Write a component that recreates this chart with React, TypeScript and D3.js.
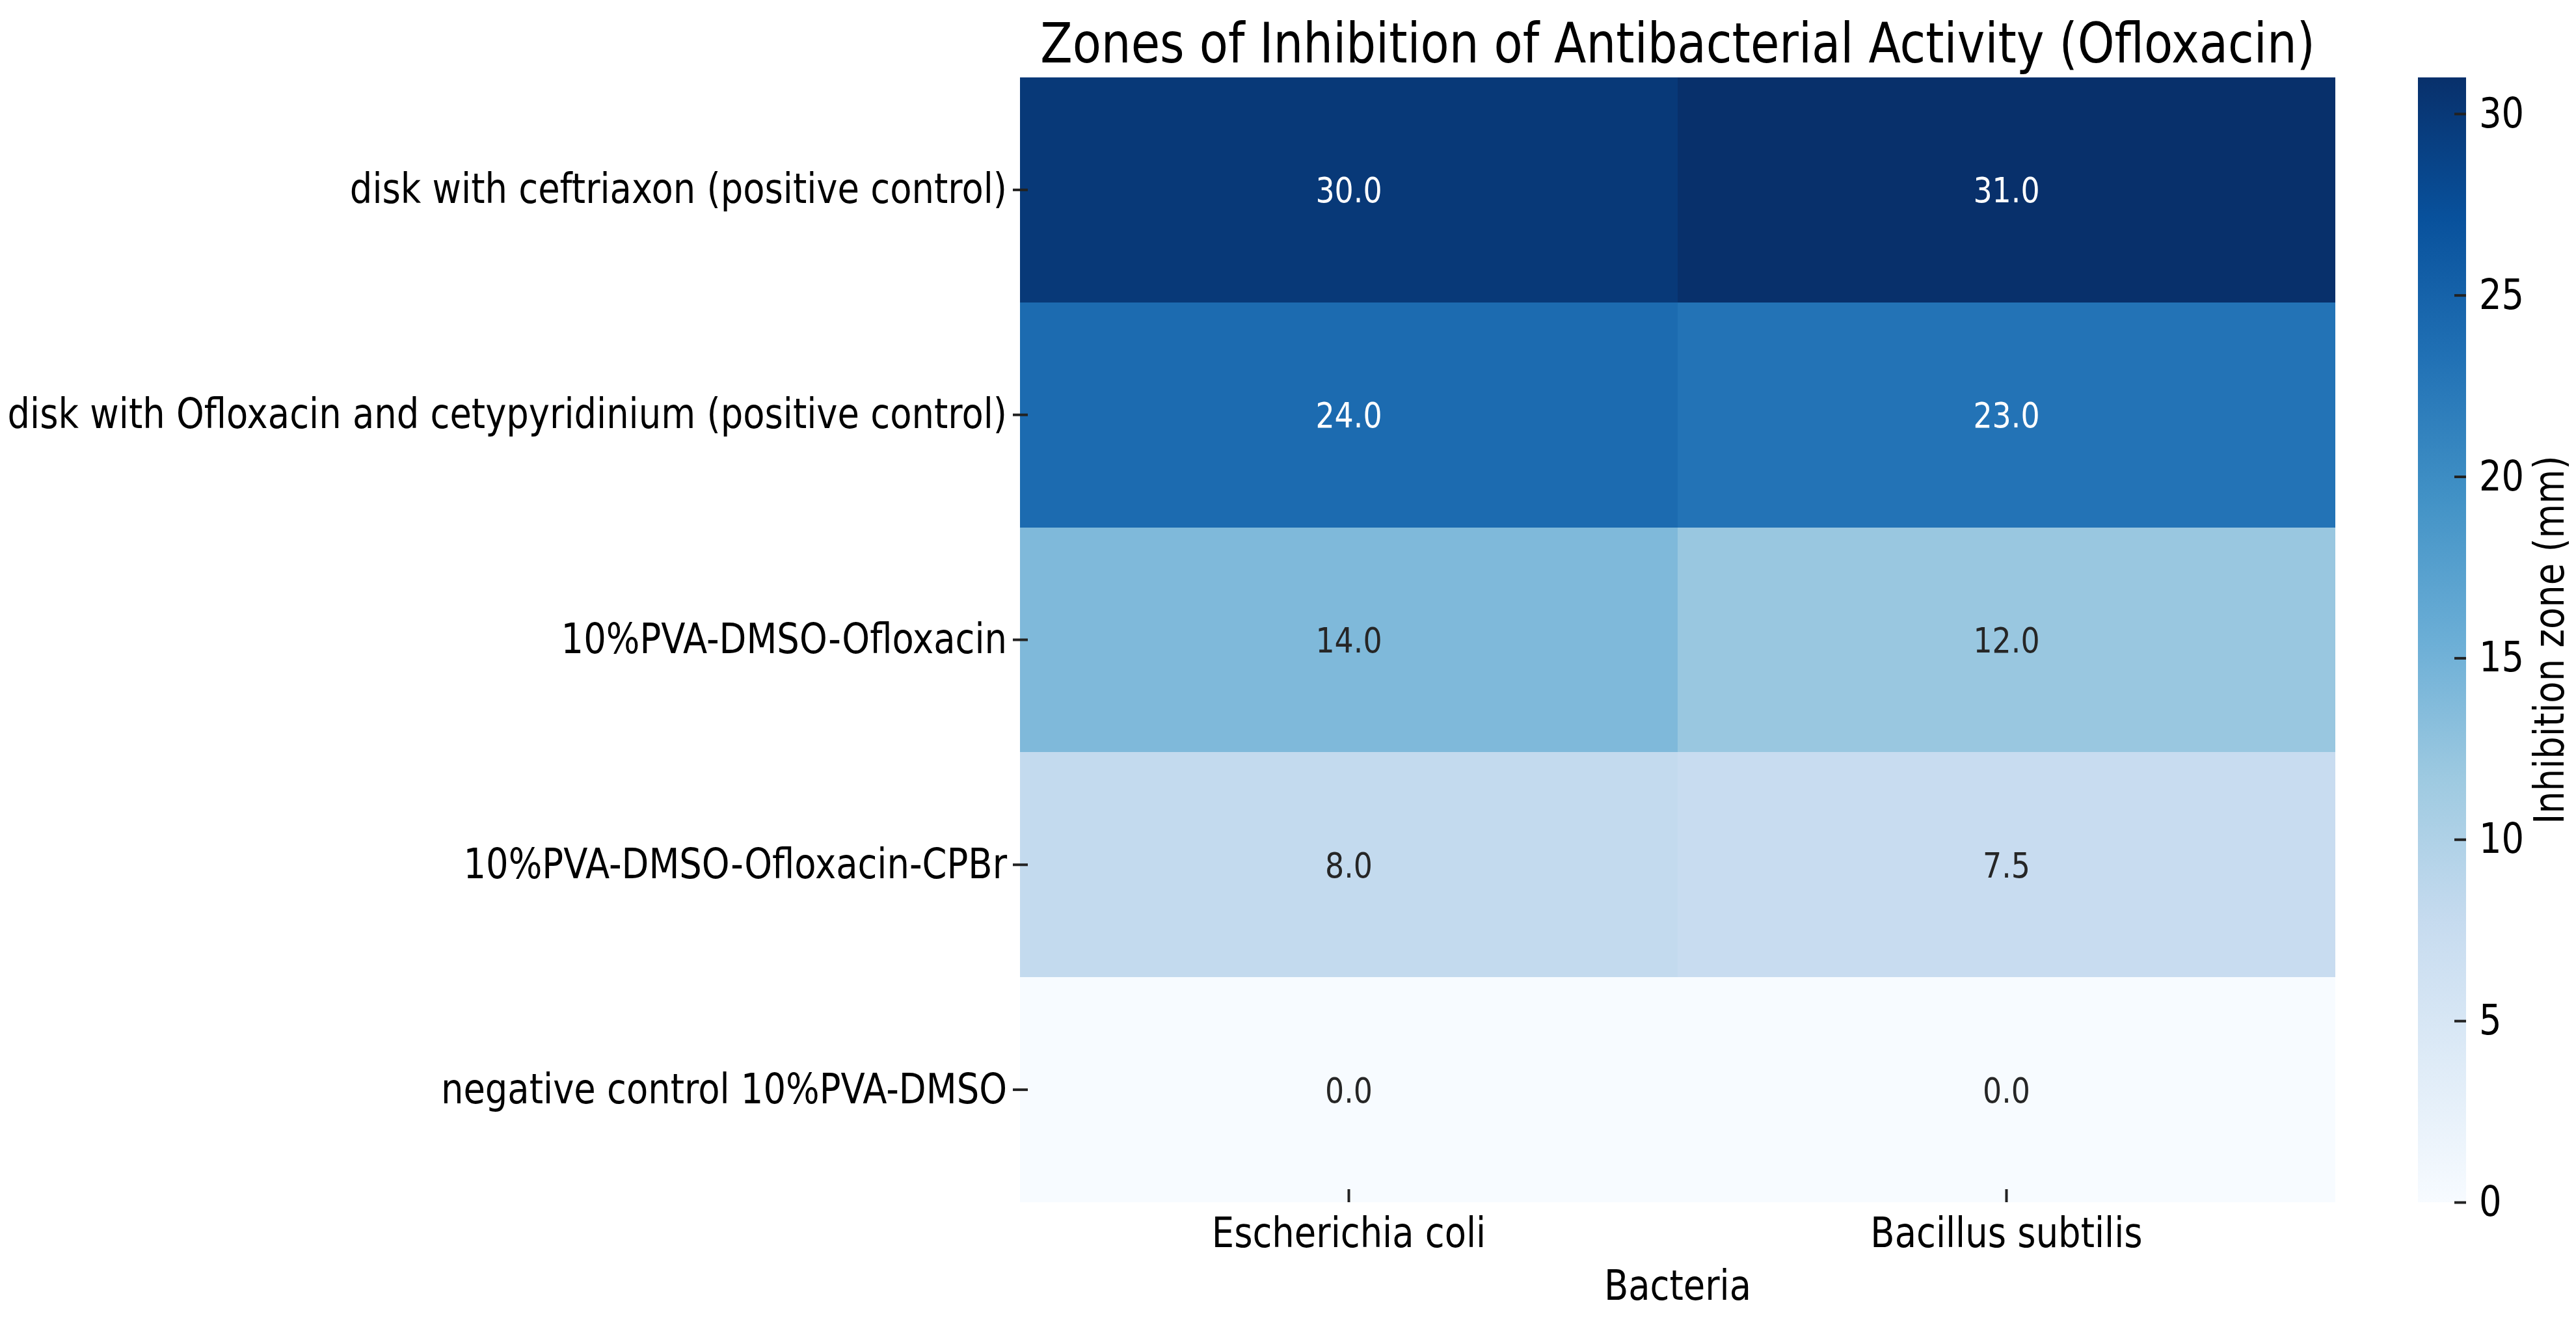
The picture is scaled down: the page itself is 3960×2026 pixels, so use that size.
import React, { useRef, useEffect } from 'react';
import * as d3 from 'd3';

// Data
const bacteria = ['Escherichia coli', 'Bacillus subtilis'];
const treatments = [
  'disk with ceftriaxon (positive control)',
  'disk with Ofloxacin and cetypyridinium (positive control)',
  '10%PVA-DMSO-Ofloxacin',
  '10%PVA-DMSO-Ofloxacin-CPBr',
  'negative control 10%PVA-DMSO',
];
const eColiZone = [30.0, 24.0, 14.0, 8.0, 0.0];
const bSubtilisZone = [31.0, 23.0, 12.0, 7.5, 0.0];
const colorbarTicks = [0, 5, 10, 15, 20, 25, 30];

// matplotlib "Blues" control colours
const bluesStops = ['#f7fbff', '#deebf7', '#c6dbef', '#9ecae1', '#6baed6', '#4292c6', '#2171b5', '#08519c', '#08306b'];

const W = 3960;
const H = 2026;
const SX = 0.85; // the source picture uses narrow glyphs
const FONT = '"DejaVu Sans", Verdana, sans-serif';

const heat = { left: 1568, right: 3590, top: 119, bottom: 1848 };
const cbar = { left: 3717, right: 3791 };

// same rule seaborn uses to pick annotation colour
const luminance = (c: string) => {
  const { r, g, b } = d3.rgb(c);
  const lin = (v: number) => {
    const x = v / 255;
    return x <= 0.03928 ? x / 12.92 : Math.pow((x + 0.055) / 1.055, 2.4);
  };
  return 0.2126 * lin(r) + 0.7152 * lin(g) + 0.0722 * lin(b);
};

const squeeze = (sel: any) => {
  sel.each(function (this: SVGTextElement) {
    const t = d3.select(this);
    const x = +t.attr('x') || 0;
    const y = +t.attr('y') || 0;
    t.attr('x', null).attr('y', null).attr('transform', `translate(${x},${y}) scale(${SX},1)`);
  });
};

const App: React.FC = () => {
  const ref = useRef<SVGSVGElement>(null);

  useEffect(() => {
    if (!ref.current) return;
    const svg = d3.select(ref.current);
    svg.selectAll('*').remove();

    const cells = treatments.flatMap((t, i) => [
      { t, b: bacteria[0], v: eColiZone[i] },
      { t, b: bacteria[1], v: bSubtilisZone[i] },
    ]);
    const vmax = d3.max(cells, d => d.v) || 1;

    const x = d3.scaleBand().domain(bacteria).range([heat.left, heat.right]);
    const y = d3.scaleBand().domain(treatments).range([heat.top, heat.bottom]);
    const color = d3.scaleLinear<string>()
      .domain(bluesStops.map((_, i) => (vmax * i) / (bluesStops.length - 1)))
      .range(bluesStops)
      .interpolate(d3.interpolateRgb);

    svg.append('rect').attr('width', W).attr('height', H).attr('fill', '#fff');

    // cells
    svg.append('g')
      .selectAll('rect')
      .data(cells)
      .enter()
      .append('rect')
      .attr('x', d => x(d.b) || 0)
      .attr('y', d => y(d.t) || 0)
      .attr('width', x.bandwidth())
      .attr('height', y.bandwidth())
      .attr('fill', d => color(d.v))
      .attr('shape-rendering', 'crispEdges');

    // annotations
    const fmt = d3.format('.1f');
    svg.append('g')
      .selectAll('text')
      .data(cells)
      .enter()
      .append('text')
      .attr('x', d => (x(d.b) || 0) + x.bandwidth() / 2)
      .attr('y', d => (y(d.t) || 0) + y.bandwidth() / 2)
      .attr('dy', '0.36em')
      .attr('text-anchor', 'middle')
      .attr('font-family', FONT)
      .attr('font-size', 54)
      .attr('fill', d => (luminance(color(d.v)) > 0.408 ? '#262626' : '#ffffff'))
      .text(d => fmt(d.v))
      .call(squeeze);

    const styleAxis = (g: any) => {
      g.select('.domain').remove();
      g.attr('font-family', FONT).attr('font-size', 64);
      g.selectAll('line').attr('stroke', '#222').attr('stroke-width', 4);
      g.selectAll('text').attr('fill', '#000').call(squeeze);
    };

    // y axis, ticks sit across the left edge
    svg.append('g')
      .attr('transform', `translate(${heat.left},0)`)
      .call(d3.axisLeft(y).tickSizeInner(-12).tickSizeOuter(0).tickPadding(20))
      .call(styleAxis)
      .call((g: any) => g.selectAll('.tick line').attr('x1', -11).attr('x2', 12));

    // x axis, ticks point inward
    svg.append('g')
      .attr('transform', `translate(0,${heat.bottom})`)
      .call(d3.axisBottom(x).tickSizeInner(-20).tickSizeOuter(0).tickPadding(24))
      .call(styleAxis);

    // colorbar
    const cb = d3.scaleLinear().domain([0, vmax]).range([heat.bottom, heat.top]);
    const grad = svg.append('defs').append('linearGradient')
      .attr('id', 'cbGrad')
      .attr('x1', 0).attr('y1', 1).attr('x2', 0).attr('y2', 0);
    grad.selectAll('stop')
      .data(bluesStops)
      .enter()
      .append('stop')
      .attr('offset', (_, i) => i / (bluesStops.length - 1))
      .attr('stop-color', d => d);

    svg.append('rect')
      .attr('x', cbar.left)
      .attr('y', cb(vmax))
      .attr('width', cbar.right - cbar.left)
      .attr('height', cb(0) - cb(vmax))
      .attr('fill', 'url(#cbGrad)');

    svg.append('g')
      .attr('transform', `translate(${cbar.right},0)`)
      .call(d3.axisRight(cb).tickValues(colorbarTicks).tickSizeInner(-18).tickSizeOuter(0).tickPadding(20))
      .call(styleAxis);

    // titles
    svg.append('text')
      .attr('x', (heat.left + heat.right) / 2)
      .attr('y', 96)
      .attr('text-anchor', 'middle')
      .attr('font-family', FONT)
      .attr('font-size', 85)
      .text('Zones of Inhibition of Antibacterial Activity (Ofloxacin)')
      .call(squeeze);

    svg.append('text')
      .attr('x', (heat.left + heat.right) / 2)
      .attr('y', 1998)
      .attr('text-anchor', 'middle')
      .attr('font-family', FONT)
      .attr('font-size', 64)
      .text('Bacteria')
      .call(squeeze);

    svg.append('text')
      .attr('transform', `translate(3941,${(heat.top + heat.bottom) / 2}) rotate(-90) scale(${SX},1)`)
      .attr('text-anchor', 'middle')
      .attr('font-family', FONT)
      .attr('font-size', 64)
      .text('Inhibition zone (mm)');
  }, []);

  return (
    <svg
      ref={ref}
      width={W}
      height={H}
      style={{ position: 'absolute', left: 0, top: 0, display: 'block' }}
    />
  );
};

export default App;
